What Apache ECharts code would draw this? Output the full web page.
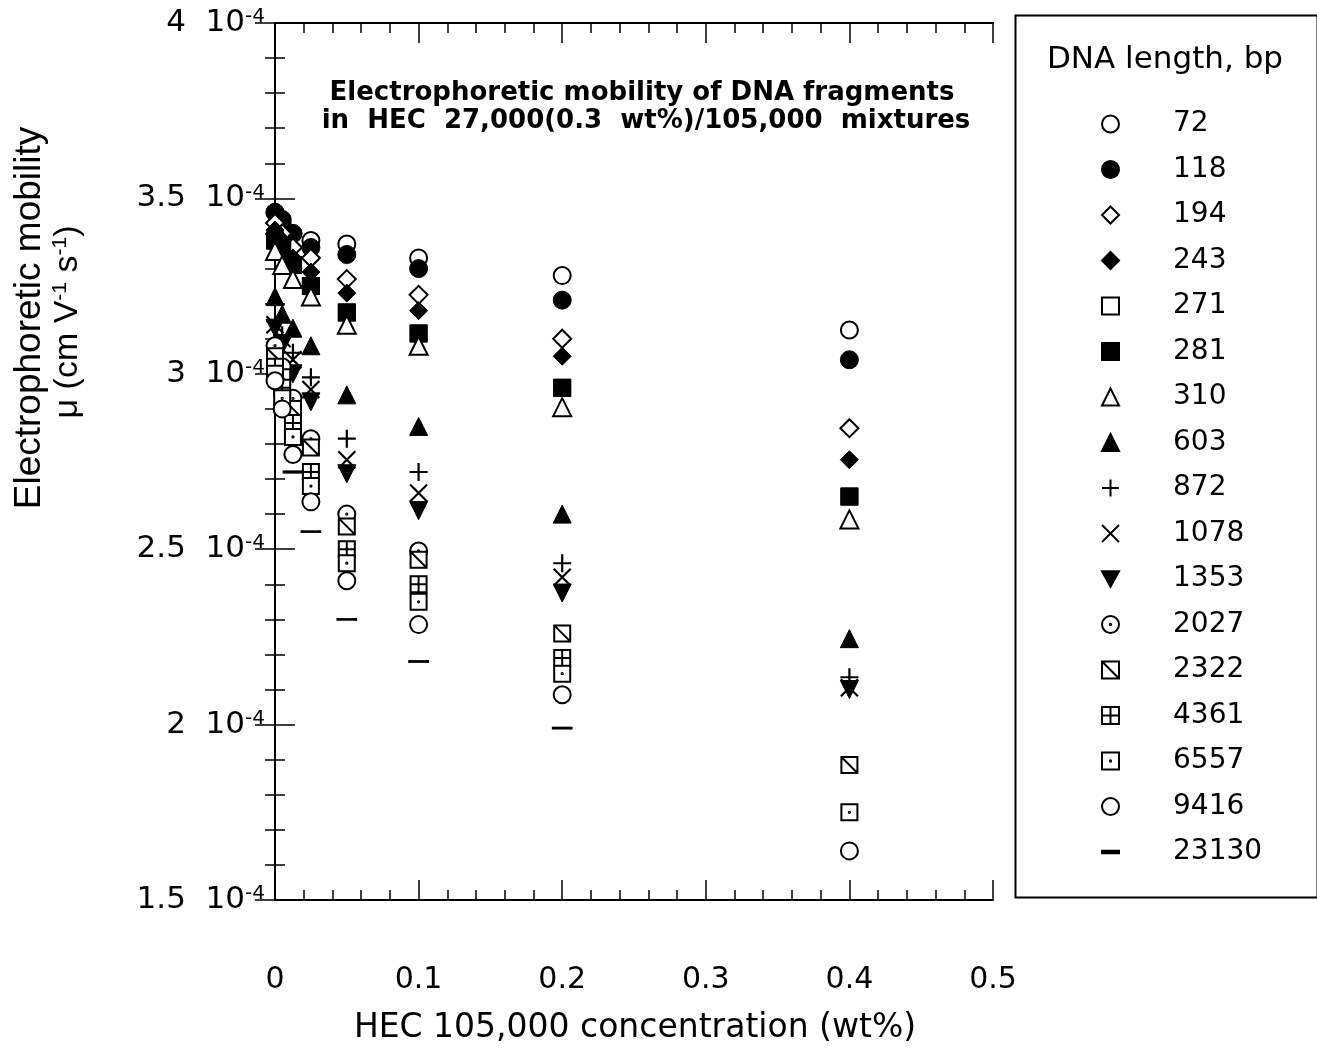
<!DOCTYPE html>
<html>
<head>
<meta charset="utf-8">
<title>DNA mobility in HEC mixtures</title>
<script src="https://cdn.jsdelivr.net/npm/echarts@6/dist/echarts.min.js"></script>
<style>
  html, body { margin: 0; padding: 0; background: #fff; }
  #chart { width: 1317px; height: 1051px; }
</style>
</head>
<body>
<div id="chart"></div>
<script>
  // HEC 105,000 concentration (wt%)
  const conc = [0, 0.005, 0.0125, 0.025, 0.05, 0.1, 0.2, 0.4];
  const xTicks = [0, 0.1, 0.2, 0.3, 0.4, 0.5];
  const yTicks = [1.5, 2, 2.5, 3, 3.5, 4];

  // mobility in units of 1e-4 cm2 V-1 s-1, one value per concentration
  const mu72    = [3.46, 3.43, 3.40, 3.38, 3.37, 3.33, 3.28, 3.125];
  const mu118   = [3.46, 3.44, 3.40, 3.36, 3.34, 3.30, 3.21, 3.04];
  const mu194   = [3.43, 3.40, 3.36, 3.33, 3.27, 3.225, 3.10, 2.845];
  const mu243   = [3.41, 3.38, 3.33, 3.29, 3.23, 3.18, 3.05, 2.755];
  const mu271   = [3.38, 3.35, 3.31, 3.25, 3.175, 3.115, 2.96, 2.65];
  const mu281   = [3.38, 3.35, 3.31, 3.25, 3.175, 3.115, 2.96, 2.65];
  const mu310   = [3.35, 3.31, 3.27, 3.22, 3.14, 3.08, 2.905, 2.585];
  const mu603   = [3.22, 3.17, 3.13, 3.08, 2.94, 2.85, 2.60, 2.245];
  const mu872   = [3.15, 3.11, 3.06, 2.99, 2.815, 2.72, 2.46, 2.135];
  const mu1078  = [3.14, 3.10, 3.04, 2.955, 2.755, 2.66, 2.42, 2.105];
  const mu1353  = [3.13, 3.08, 3.00, 2.92, 2.715, 2.61, 2.375, 2.10];
  const mu2027  = [3.08, 3.02, 2.93, 2.815, 2.60, 2.495, null, null];
  const mu2322  = [3.05, 2.99, 2.90, 2.79, 2.565, 2.47, 2.26, 1.885];
  const mu4361  = [3.02, 2.96, 2.86, 2.72, 2.50, 2.40, 2.19, null];
  const mu6557  = [3.00, 2.93, 2.82, 2.68, 2.46, 2.35, 2.145, 1.75];
  const mu9416  = [2.98, 2.90, 2.77, 2.635, 2.41, 2.285, 2.085, 1.64];
  const mu23130 = [null, null, 2.72, 2.55, 2.30, 2.18, 1.99, null];

  const lengths = ['72', '118', '194', '243', '271', '281', '310', '603', '872',
    '1078', '1353', '2027', '2322', '4361', '6557', '9416', '23130'];
  const values = [mu72, mu118, mu194, mu243, mu271, mu281, mu310, mu603, mu872,
    mu1078, mu1353, mu2027, mu2322, mu4361, mu6557, mu9416, mu23130];

  // marker look per fragment
  const DOT = 'M5.4,5A0.4,0.4,0,1,1,4.6,5A0.4,0.4,0,1,1,5.4,5Z';
  const open = {color: '#fff', borderColor: '#000', borderWidth: 2};
  const solid = {color: '#000', borderColor: '#000', borderWidth: 1};
  const markers = [
    {symbol: 'circle', size: 17, style: open},
    {symbol: 'circle', size: 18, style: solid},
    {symbol: 'diamond', size: 18, style: open},
    {symbol: 'diamond', size: 18, style: solid},
    {symbol: 'rect', size: 16, style: open},
    {symbol: 'rect', size: 17, style: solid},
    {symbol: 'triangle', size: 18, style: open},
    {symbol: 'triangle', size: 18, style: solid},
    {symbol: 'path://M0,5L10,5M5,0L5,10', size: 18, style: {color: '#000', borderColor: '#000', borderWidth: 2.2}},
    {symbol: 'path://M0,0L10,10M10,0L0,10', size: 17, style: {color: '#000', borderColor: '#000', borderWidth: 2.2}},
    {symbol: 'path://M0,0L10,0L5,9Z', size: 18, style: solid},
    {symbol: 'path://M10,5A5,5,0,1,1,0,5A5,5,0,1,1,10,5Z ' + DOT, size: 17, style: open},
    {symbol: 'path://M0,0H10V10H0Z M0,0L10,10', size: 16, style: open},
    {symbol: 'path://M0,0H10V10H0Z M0,5H10 M5,0V10', size: 16, style: open},
    {symbol: 'path://M0,0H10V10H0Z ' + DOT, size: 16, style: open},
    {symbol: 'circle', size: 17, style: open},
    {symbol: 'path://M0,0H10V1.4H0Z', size: [18, 2.5], style: solid}
  ];

  const series = lengths.map(function (len, i) {
    const pts = [];
    values[i].forEach(function (v, j) {
      if (v !== null) pts.push([conc[j], v]);
    });
    return {
      name: len,
      type: 'scatter',
      symbol: markers[i].symbol,
      symbolSize: markers[i].size,
      itemStyle: Object.assign({opacity: 1}, markers[i].style),
      emphasis: {disabled: true},
      data: pts
    };
  });

  const FONT = 'DejaVu Sans';
  const chart = echarts.init(document.getElementById('chart'));

  const tickCommon = {
    axisLine: {show: true, lineStyle: {color: '#000', width: 2}},
    axisTick: {show: true, inside: true, length: 20, lineStyle: {color: '#000', width: 1.5}},
    minorTick: {show: true, splitNumber: 5, length: 10, lineStyle: {color: '#000', width: 1.5}},
    splitLine: {show: false}
  };

  const option = {
    backgroundColor: '#fff',
    animation: false,
    grid: {left: 275, top: 23, width: 718, height: 877},
    xAxis: [
      Object.assign({
        type: 'value', position: 'bottom', min: xTicks[0], max: xTicks[xTicks.length - 1], interval: 0.1,
        axisLabel: {
          margin: 65, color: '#000', fontSize: 30, fontFamily: FONT,
          formatter: function (v) { return String(v); }
        }
      }, tickCommon),
      Object.assign({
        type: 'value', position: 'top', min: 0, max: 0.5, interval: 0.1,
        axisLabel: {show: false}
      }, tickCommon)
    ],
    yAxis: [
      Object.assign({
        type: 'value', position: 'left', min: yTicks[0], max: yTicks[yTicks.length - 1], interval: 0.5,
        axisLabel: {
          margin: 10, color: '#000',
          formatter: function (v) { return '{n|' + v + '  10}{s|-4}'; },
          rich: {
            n: {fontSize: 31, fontFamily: FONT, color: '#000', lineHeight: 32},
            s: {fontSize: 20, fontFamily: FONT, color: '#000', lineHeight: 20, verticalAlign: 'top'}
          }
        }
      }, tickCommon),
      Object.assign({
        type: 'value', position: 'right', min: 1.5, max: 4, interval: 0.5,
        axisLabel: {show: false}
      }, tickCommon)
    ],
    legend: {
      orient: 'vertical',
      left: 1096,
      top: 105,
      itemWidth: 17,
      itemHeight: 17,
      itemGap: 17.5,
      selectedMode: false,
      data: lengths,
      formatter: function (name) { return '{g| }{t|' + name + '}'; },
      textStyle: {
        color: '#000',
        rich: {
          g: {width: 49, fontSize: 28, lineHeight: 30},
          t: {fontSize: 28, fontFamily: FONT, color: '#000', lineHeight: 30}
        }
      }
    },
    graphic: [
      {
        type: 'rect', left: 1013, top: 13,
        shape: {width: 302, height: 882},
        style: {fill: 'none', stroke: '#000', lineWidth: 2}
      },
      {
        type: 'text', x: 1165, y: 60,
        style: {text: 'DNA length, bp', font: '31px "DejaVu Sans"', fill: '#000', textAlign: 'center', textVerticalAlign: 'middle'}
      },
      {
        type: 'text', x: 642, y: 93,
        style: {text: 'Electrophoretic mobility of DNA fragments', font: 'bold 26px "DejaVu Sans"', fill: '#000', textAlign: 'center', textVerticalAlign: 'middle'}
      },
      {
        type: 'text', x: 646, y: 121,
        style: {text: 'in  HEC  27,000(0.3  wt%)/105,000  mixtures', font: 'bold 26px "DejaVu Sans"', fill: '#000', textAlign: 'center', textVerticalAlign: 'middle'}
      },
      {
        type: 'text', x: 635, y: 1028,
        style: {text: 'HEC 105,000 concentration (wt%)', font: '33px "DejaVu Sans"', fill: '#000', textAlign: 'center', textVerticalAlign: 'middle'}
      },
      {
        type: 'text', x: 30, y: 318, rotation: Math.PI / 2,
        style: {text: 'Electrophoretic mobility', font: '37px "Liberation Sans"', fill: '#000', textAlign: 'center', textVerticalAlign: 'middle'}
      },
      {
        type: 'text', x: 68, y: 322, rotation: Math.PI / 2,
        style: {
          text: '{a|μ (cm V}{s|-1}{a| s}{s|-1}{a|)}',
          textAlign: 'center', textVerticalAlign: 'middle',
          rich: {
            a: {fontSize: 34, fontFamily: 'Liberation Sans', color: '#000', lineHeight: 36},
            s: {fontSize: 21, fontFamily: 'Liberation Sans', color: '#000', lineHeight: 21, verticalAlign: 'top'}
          }
        }
      }
    ],
    series: series
  };

  chart.setOption(option);
  window.addEventListener('resize', function () {
    chart.resize();
  });
</script>
</body>
</html>
